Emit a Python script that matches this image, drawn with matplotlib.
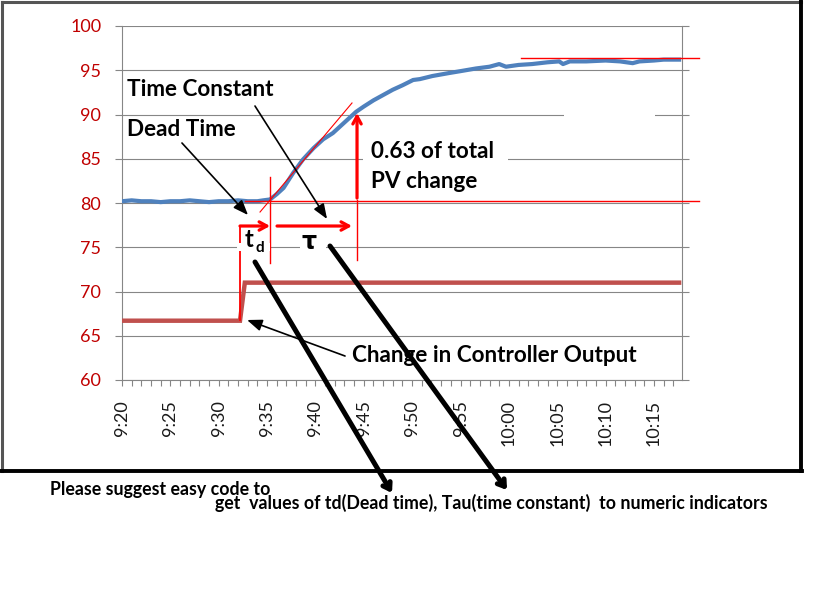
import matplotlib
matplotlib.use('Agg')
import matplotlib.pyplot as plt
from matplotlib.patches import Rectangle
from matplotlib.lines import Line2D
import numpy as np

# ---------------- data ----------------
# minutes after 9:20
pv_min = [0.0, 1.0, 2.0, 3.0, 4.0, 5.0, 6.0, 7.0, 8.0, 9.0, 10.0, 11.0, 12.0, 13.0, 14.0,
          14.6, 15.3, 16.0, 16.7, 17.7, 18.7, 19.8, 20.8, 21.8, 22.9, 24.2, 25.0, 26.0,
          27.0, 28.0, 29.0, 30.1, 30.8, 32.1, 33.9, 35.0, 36.6, 38.0, 39.0, 39.7, 41.0,
          42.4, 44.0, 45.2, 45.6, 46.3, 48.0, 50.0, 51.5, 52.8, 53.5, 55.0, 56.0, 57.6]
pv_val = [80.2, 80.3, 80.2, 80.2, 80.1, 80.2, 80.2, 80.3, 80.2, 80.1, 80.2, 80.2, 80.3, 80.2, 80.2,
          80.3, 80.4, 81.0, 81.7, 83.4, 84.9, 86.2, 87.2, 87.9, 89.0, 90.3, 90.9, 91.6,
          92.2, 92.8, 93.3, 93.9, 94.0, 94.35, 94.7, 94.9, 95.2, 95.4, 95.7, 95.4, 95.6,
          95.7, 95.9, 96.0, 95.7, 96.0, 96.0, 96.1, 96.0, 95.8, 96.0, 96.1, 96.2, 96.2]

co_min = [0.0, 12.2, 12.7, 57.6]
co_val = [66.7, 66.7, 71.0, 71.0]

tick_labels = ['9:20', '9:25', '9:30', '9:35', '9:40', '9:45', '9:50', '9:55',
               '10:00', '10:05', '10:10', '10:15']
y_ticks = [60, 65, 70, 75, 80, 85, 90, 95, 100]

# ---------------- figure ----------------
W, H = 835, 614
plt.rcParams['font.family'] = ['Lato', 'DejaVu Sans']
fig = plt.figure(figsize=(W / 100, H / 100), dpi=100)


def F(x, y):
    return (x / W, 1 - y / H)


ax = fig.add_axes([122 / W, 1 - 380 / H, 560 / W, 354 / H])
ax.set_xlim(0, 57.9)
ax.set_ylim(60, 100)
ax.set_axisbelow(True)

grid_c = '#868686'
ax.set_yticks(y_ticks)
ax.set_yticklabels([str(v) for v in y_ticks])
ax.yaxis.grid(True, color=grid_c, lw=0.8, zorder=0)
for s in ['left', 'right', 'bottom']:
    ax.spines[s].set_color(grid_c)
    ax.spines[s].set_linewidth(0.8)
ax.spines['top'].set_visible(False)
ax.tick_params(axis='y', left=True, right=True, direction='out', length=5, width=0.8,
               color=grid_c, labelcolor='#C00000', labelsize=13, pad=10)

ax.set_xticks(range(0, 5 * len(tick_labels), 5))
ax.set_xticklabels(tick_labels, rotation=90)
ax.set_xticks(range(0, 58), minor=True)
ax.tick_params(axis='x', which='both', direction='out', length=4.5, width=0.8, color=grid_c)
ax.tick_params(axis='x', which='major', labelsize=13, pad=10, labelcolor='#1a1a1a')

# erased gridline segments (white boxes)
for (x0, x1, yc) in [(363, 508, 159), (564, 655, 114.5), (237, 270, 247), (300, 326, 247)]:
    fig.patches.append(Rectangle(F(x0, yc + 4), (x1 - x0) / W, 8 / H, transform=fig.transFigure,
                                 facecolor='white', edgecolor='none', zorder=1))

# series
ax.plot(co_min, co_val, color='#C0504D', lw=3.2, zorder=3, solid_joinstyle='miter')
ax.plot(pv_min, pv_val, color='#4F81BD', lw=3.0, zorder=3)

red = '#FF0000'
# thin red construction lines
ax.plot([12.72, 59.67], [80.28, 80.28], color=red, lw=1.0, zorder=4, clip_on=False)
ax.plot([41.26, 59.67], [96.35, 96.35], color=red, lw=1.0, zorder=4, clip_on=False)
ax.plot([14.27, 23.78], [78.98, 91.30], color=red, lw=0.8, zorder=4)
ax.plot([15.31, 15.31], [82.94, 73.22], color=red, lw=1.0, zorder=4)
ax.plot([24.30, 24.30], [80.34, 73.56], color=red, lw=1.0, zorder=4)
ax.plot([12.2, 12.2], [77.4, 66.78], color=red, lw=1.3, zorder=4)

# thick red arrows
rarrow = dict(arrowstyle='->,head_length=0.55,head_width=0.3', color=red, lw=2.3,
              shrinkA=0, shrinkB=0)
ax.annotate('', xy=(24.30, 90.17), xytext=(24.30, 80.56), arrowprops=rarrow, zorder=5)
ax.annotate('', xy=(15.31, 77.4), xytext=(12.2, 77.4), arrowprops=rarrow, zorder=5)
ax.annotate('', xy=(23.78, 77.4), xytext=(16.03, 77.4), arrowprops=rarrow, zorder=5)

# thin black arrows
barrow = dict(arrowstyle='-|>,head_length=0.9,head_width=0.35', color='black', lw=1.2,
              shrinkA=0, shrinkB=0)
ax.annotate('', xy=(13.03, 78.64), xytext=(6.20, 86.78), arrowprops=barrow, zorder=5)
ax.annotate('', xy=(21.20, 78.19), xytext=(13.75, 90.96), arrowprops=barrow, zorder=5)
ax.annotate('', xy=(12.93, 66.78), xytext=(23.06, 62.71), arrowprops=barrow, zorder=5)

# labels inside chart
tk = dict(transform=fig.transFigure, fontsize=16.2, fontweight='bold', color='black',
          va='center', ha='left', zorder=6)
fig.text(*F(127, 90), 'Time Constant', **tk)
fig.text(*F(127, 129), 'Dead Time', **tk)
fig.text(*F(371, 151), '0.63 of total', **tk)
fig.text(*F(371, 181), 'PV change', **tk)
fig.text(*F(352, 356), 'Change in Controller Output', **tk)
fig.text(*F(245, 240), 't', transform=fig.transFigure, fontsize=17, fontweight='bold',
         va='center', ha='left', zorder=6)
fig.text(*F(255, 248), 'd', transform=fig.transFigure, fontsize=11, fontweight='bold',
         va='center', ha='left', zorder=6)
fig.text(*F(301, 242), 'τ', transform=fig.transFigure, fontsize=17, fontweight='bold',
         family=['DejaVu Sans'], va='center', ha='left', zorder=6)

# thick black arrows leaving the chart
tarrow = dict(arrowstyle='->,head_length=0.45,head_width=0.3', color='black', lw=3.6,
              shrinkA=0, shrinkB=0)
ax.annotate('', xy=F(392, 493), xycoords='figure fraction',
            xytext=F(255, 262), textcoords='figure fraction', arrowprops=tarrow,
            annotation_clip=False, zorder=7)
ax.annotate('', xy=F(507, 490), xycoords='figure fraction',
            xytext=F(330, 246), textcoords='figure fraction', arrowprops=tarrow,
            annotation_clip=False, zorder=7)

# outer frame
fig.add_artist(Line2D([1.5 / W, 1.5 / W], [1 - 1.5 / H, 1 - 471 / H], color='#555555', lw=2.2,
                      transform=fig.transFigure))
fig.add_artist(Line2D([1.5 / W, 801 / W], [1 - 1.5 / H, 1 - 1.5 / H], color='#555555', lw=2.2,
                      transform=fig.transFigure))
fig.add_artist(Line2D([801 / W, 801 / W], [1 - 1 / H, 1 - 471 / H], color='black', lw=2.8,
                      transform=fig.transFigure))
fig.add_artist(Line2D([0, 802 / W], [1 - 471 / H, 1 - 471 / H], color='black', lw=2.8,
                      transform=fig.transFigure))

# bottom question text
bt = dict(transform=fig.transFigure, fontsize=12.8, fontweight='bold', color='black',
          va='center', ha='left')
fig.text(*F(50, 489), 'Please suggest easy code to', **bt)
fig.text(*F(215, 503), 'get  values of td(Dead time), Tau(time constant)  to numeric indicators', **bt)

fig.savefig('out.png', dpi=100, facecolor='white')
